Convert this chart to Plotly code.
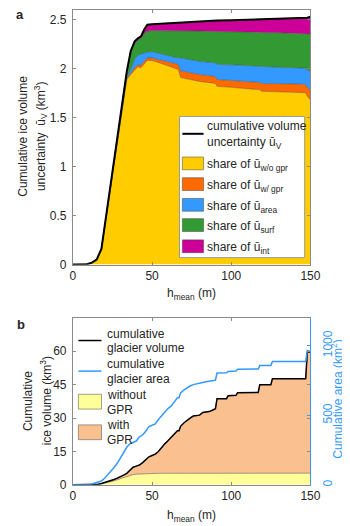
import plotly.graph_objects as go

W, H = 350, 526

# ---------------- Panel a data ----------------
h_a = [0, 6, 9, 12, 15, 18, 20, 22, 24, 26, 28, 30, 32, 34, 36.5, 39, 41, 43, 45, 47,
       50, 55, 60, 65, 66.5, 68, 75, 80, 90, 91, 100, 110, 118, 119, 130, 140, 147, 148, 150]
u_wo_gpr = [0, 0, 0.003, 0.02, 0.05, 0.158, 0.372, 0.605, 0.825, 1.035,
            1.254, 1.445, 1.675, 1.89, 1.94, 1.99, 2.02, 2.01, 2.05, 2.085,
            2.085, 2.06, 2.03, 2.0, 1.995, 1.91, 1.89, 1.87, 1.85, 1.82,
            1.81, 1.795, 1.785, 1.77, 1.765, 1.76, 1.755, 1.72, 1.68]
u_w_gpr = [0, 0, 0, 0, 0, 0, 0.001, 0.002, 0.003, 0.004,
           0.005, 0.006, 0.007, 0.008, 0.015, 0.02, 0.02, 0.025, 0.025, 0.025,
           0.025, 0.03, 0.035, 0.045, 0.05, 0.07, 0.07, 0.07, 0.07, 0.07,
           0.07, 0.075, 0.075, 0.08, 0.085, 0.085, 0.085, 0.09, 0.10]
u_area = [0, 0, 0, 0, 0, 0, 0.002, 0.003, 0.005, 0.006,
          0.008, 0.01, 0.012, 0.015, 0.04, 0.09, 0.10, 0.115, 0.085, 0.06,
          0.065, 0.065, 0.065, 0.07, 0.07, 0.13, 0.13, 0.135, 0.14, 0.155,
          0.16, 0.16, 0.165, 0.17, 0.165, 0.165, 0.165, 0.18, 0.195]
u_surf = [0, 0, 0, 0, 0, 0.002, 0.005, 0.01, 0.015, 0.022,
          0.03, 0.035, 0.04, 0.05, 0.175, 0.16, 0.15, 0.16, 0.2, 0.215,
          0.215, 0.235, 0.26, 0.275, 0.275, 0.28, 0.295, 0.31, 0.32, 0.335,
          0.338, 0.345, 0.347, 0.35, 0.353, 0.355, 0.357, 0.37, 0.38]
u_int = [0, 0, 0, 0, 0, 0, 0, 0, 0.002, 0.003,
         0.003, 0.004, 0.006, 0.007, 0.01, 0.02, 0.02, 0.02, 0.04, 0.065,
         0.065, 0.07, 0.075, 0.08, 0.08, 0.082, 0.093, 0.097, 0.108, 0.112,
         0.117, 0.125, 0.13, 0.135, 0.14, 0.145, 0.15, 0.16, 0.175]
u_total = [a + b + c + d + e for a, b, c, d, e in zip(u_wo_gpr, u_w_gpr, u_area, u_surf, u_int)]

share_names = ["share of ū<sub>w/o gpr</sub>", "share of ū<sub>w/ gpr</sub>",
               "share of ū<sub>area</sub>", "share of ū<sub>surf</sub>", "share of ū<sub>int</sub>"]
share_colors = ["#FFCC00", "#FF6A00", "#3399FF", "#339933", "#CC0099"]
shares = [u_wo_gpr, u_w_gpr, u_area, u_surf, u_int]

# ---------------- Panel b data ----------------
h_b = [0, 8, 10, 12, 14, 16, 18, 20, 22, 24,
       26, 28, 30, 32, 34, 36, 38, 40, 42, 44,
       46, 48, 50, 52, 54, 56, 58, 60, 62, 64,
       66, 67, 68, 70, 72, 74, 76, 78, 80, 82,
       84, 86, 88, 90, 91, 97, 98, 103, 104, 117,
       118, 125, 126, 147, 148, 150]
vol_total = [0, 0, 0, 0.02, 0.1, 0.3, 0.6, 1.0, 1.45, 1.9,
             2.4, 3.0, 3.6, 4.4, 5.2, 6.6, 7.9, 8.4, 8.9, 10.0,
             11.5, 12.6, 13.2, 13.8, 15.0, 16.8, 18.4, 19.8, 21.2, 22.8,
             24.3, 24.3, 26.3, 27.8, 29.0, 30.0, 30.9, 31.2, 31.3, 32.5,
             32.7, 32.9, 33.5, 34.2, 38.7, 38.7, 40.0, 40.2, 41.4, 41.5,
             45.0, 45.0, 47.7, 47.7, 59.5, 59.8]
area_total = [0, 0, 2, 6, 12, 18, 28, 48, 72, 98,
              125, 155, 195, 235, 270, 295, 305, 315, 345, 358,
              385, 418, 428, 438, 470, 495, 520, 548, 565, 600,
              626, 626, 660, 680, 697, 710, 720, 724, 726, 735,
              740, 742, 748, 752, 803, 805, 815, 818, 831, 832,
              857, 857, 886, 886, 965, 958]
vol_without_gpr = [0, 0, 0, 0, 0.05, 0.2, 0.4, 0.7, 1.0, 1.4,
                   1.8, 2.3, 2.8, 3.4, 3.9, 4.3, 4.6, 4.8, 4.9, 5.0,
                   5.1, 5.15, 5.2, 5.2, 5.2, 5.2, 5.2, 5.2, 5.2, 5.2,
                   5.2, 5.2, 5.2, 5.2, 5.2, 5.2, 5.2, 5.2, 5.2, 5.2,
                   5.2, 5.2, 5.2, 5.2, 5.2, 5.2, 5.2, 5.2, 5.2, 5.2,
                   5.2, 5.2, 5.2, 5.2, 5.25, 5.25]
vol_with_gpr = [t - w for t, w in zip(vol_total, vol_without_gpr)]

x_ticks = [0, 50, 100, 150]
ya_ticks = [0, 0.5, 1, 1.5, 2, 2.5]
ya_text = ["0", "0.5", "1", "1.5", "2", "2.5"]
yb_ticks = [0, 15, 30, 45, 60]
yb2_ticks = [0, 500, 1000]

FONT = "Liberation Sans, Arial, Helvetica, sans-serif"
TXT = "#262626"
AXC = "#8a8a8a"
BLUE = "#3399FF"
EDGE = "rgba(40,40,40,0.55)"


def X(px):
    return px / W


def Y(py):
    return 1 - py / H


fig = go.Figure()

for name, col, vals in zip(share_names, share_colors, shares):
    fig.add_trace(go.Scatter(x=h_a, y=vals, stackgroup="a", mode="lines",
                             line=dict(color=EDGE, width=0.6), fillcolor=col,
                             name=name, showlegend=False, xaxis="x", yaxis="y"))
fig.add_trace(go.Scatter(x=h_a, y=u_total, mode="lines", line=dict(color="black", width=2),
                         showlegend=False, xaxis="x", yaxis="y"))

fig.add_trace(go.Scatter(x=h_b, y=vol_without_gpr, stackgroup="b", mode="lines",
                         line=dict(color="rgba(90,90,90,0.7)", width=0.8), fillcolor="#FFFF99",
                         showlegend=False, xaxis="x2", yaxis="y2"))
fig.add_trace(go.Scatter(x=h_b, y=vol_with_gpr, stackgroup="b", mode="lines",
                         line=dict(color="rgba(90,90,90,0.7)", width=0.6), fillcolor="#FAC090",
                         showlegend=False, xaxis="x2", yaxis="y2"))
fig.add_trace(go.Scatter(x=h_b, y=vol_total, mode="lines", line=dict(color="black", width=1.5),
                         showlegend=False, xaxis="x2", yaxis="y2"))
fig.add_trace(go.Scatter(x=h_b, y=area_total, mode="lines", line=dict(color=BLUE, width=1.5),
                         showlegend=False, xaxis="x2", yaxis="y3"))

xdom = [X(64.3), X(311)]
axis_common = dict(showgrid=False, zeroline=False, showline=True, linecolor=AXC, linewidth=1,
                   mirror="ticks", ticks="inside", ticklen=3, tickcolor=AXC,
                   tickfont=dict(size=12, color=TXT, family=FONT))

fig.update_layout(
    width=W, height=H, margin=dict(l=0, r=0, t=0, b=0),
    paper_bgcolor="white", plot_bgcolor="white", showlegend=False,
    font=dict(family=FONT, size=12, color=TXT),
    xaxis=dict(domain=xdom, range=[0, 150], tickvals=x_ticks, anchor="y", **axis_common),
    yaxis=dict(domain=[Y(260), Y(2)], range=[0, 2.6], tickvals=ya_ticks, ticktext=ya_text,
               anchor="x", ticklabelstandoff=3, **axis_common),
    xaxis2=dict(domain=xdom, range=[0, 150], tickvals=x_ticks, anchor="y2", **axis_common),
    yaxis2=dict(domain=[Y(483.3), Y(314)], range=[0, 75], tickvals=yb_ticks, anchor="x2",
                ticklabelstandoff=3, **axis_common),
    yaxis3=dict(overlaying="y2", side="right", anchor="x2", range=[0, 1200], tickvals=yb2_ticks,
                showgrid=False, zeroline=False, showline=True, linecolor=BLUE, linewidth=1,
                ticks="inside", ticklen=3, tickcolor=BLUE, tickangle=-90, ticklabelstandoff=6,
                tickfont=dict(size=12, color=BLUE, family=FONT)),
)

shapes = []
ann = []


def text(x, y, s, size=12, color=TXT, xanchor="left", yanchor="middle", angle=0, bold=False):
    if bold:
        s = "<b>" + s + "</b>"
    ann.append(dict(x=X(x), y=Y(y), xref="paper", yref="paper", text=s, showarrow=False,
                    xanchor=xanchor, yanchor=yanchor, textangle=angle,
                    font=dict(size=size, color=color, family=FONT)))


def rect(x0, y0, x1, y1, fill, line="rgba(60,60,60,0.6)", lw=0.8):
    shapes.append(dict(type="rect", xref="paper", yref="paper", x0=X(x0), x1=X(x1),
                       y0=Y(y1), y1=Y(y0), fillcolor=fill, line=dict(color=line, width=lw)))


def hline(x0, x1, y, color, lw):
    shapes.append(dict(type="line", xref="paper", yref="paper", x0=X(x0), x1=X(x1),
                       y0=Y(y), y1=Y(y), line=dict(color=color, width=lw)))


# panel labels
text(3, 7, "a", size=13, bold=True)
text(4, 321, "b", size=13, bold=True)

# panel a axis titles
text(13, 130, "Cumulative ice volume", xanchor="center", angle=-90)
text(31, 130, "uncertainty  ū<sub>V</sub> (km<sup>3</sup>)", xanchor="center", angle=-90)
text(187, 290, "h<sub>mean</sub> (m)", xanchor="center")

# panel a legend
rect(175, 110, 305, 253, "white", line="#9a9a9a", lw=1)
hline(178, 200, 127.5, "black", 2)
text(202, 119.5, "cumulative volume")
text(202, 137, "uncertainty ū<sub>V</sub>")
box_centers = [157.5, 178.5, 199.5, 220.0, 241.5]
for yc, col, nm in zip(box_centers, share_colors, share_names):
    rect(178, yc - 6.5, 200, yc + 6.5, col)
    text(202, yc + 2, nm)

# panel b axis titles
text(17, 398, "Cumulative", xanchor="center", angle=-90)
text(36, 398, "ice volume (km<sup>3</sup>)", xanchor="center", angle=-90)
text(338.5, 396, "Cumulative area (km<sup>2</sup>)", xanchor="center", angle=-90, color=BLUE)
text(187, 515, "h<sub>mean</sub> (m)", xanchor="center")

# panel b legend
hline(70, 94, 337, "black", 1.5)
text(98, 330, "cumulative")
text(98, 345, "glacier volume")
hline(70, 94, 368, BLUE, 1.5)
text(98, 361, "cumulative")
text(98, 376, "glacier area")
rect(70, 391.5, 94, 406.5, "#FFFF99")
text(98, 392, "without")
text(98, 407, "GPR")
rect(70, 422.5, 94, 437.5, "#FAC090")
text(98, 423, "with")
text(98, 438, "GPR")

fig.update_layout(shapes=shapes, annotations=ann)
fig.write_html("out.html")
